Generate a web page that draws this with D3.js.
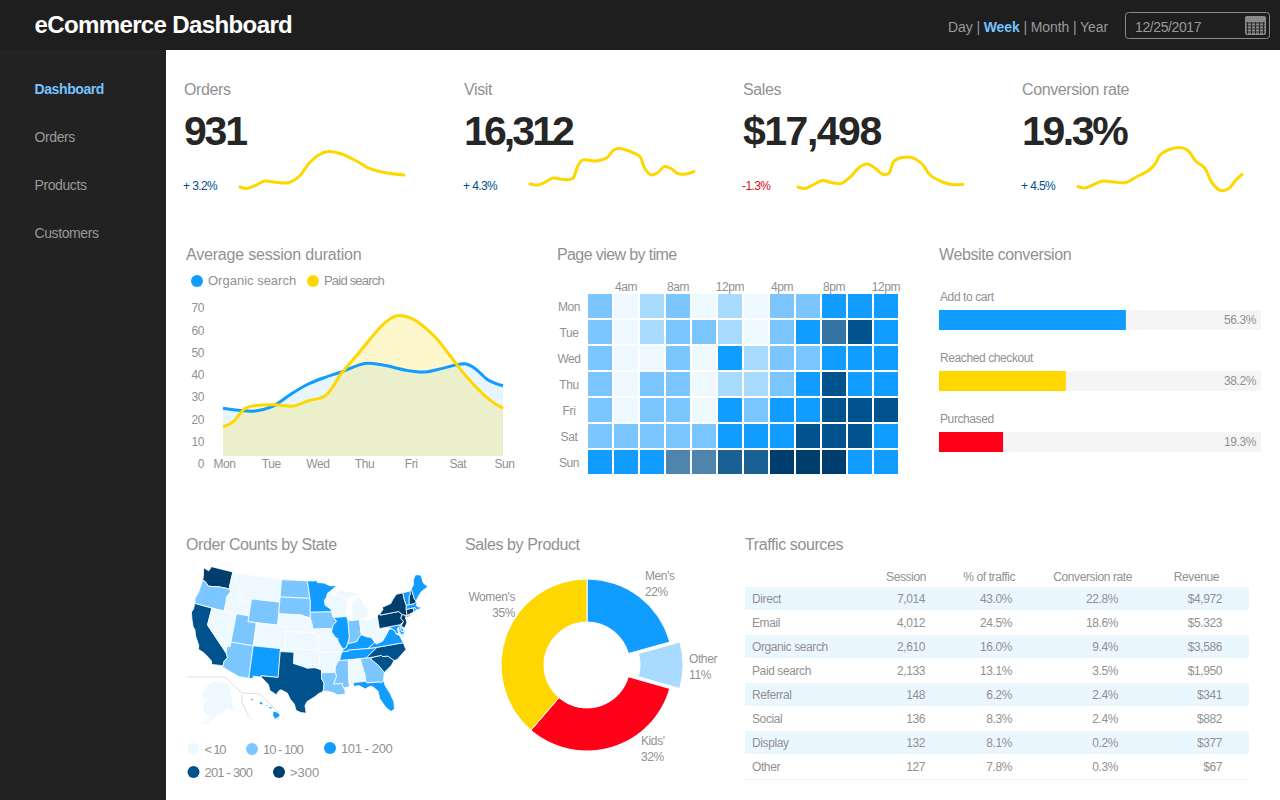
<!DOCTYPE html>
<html>
<head>
<meta charset="utf-8">
<title>eCommerce Dashboard</title>
<script src="https://cdn.jsdelivr.net/npm/d3@7"></script>
<style>
  html, body { margin: 0; padding: 0; background: #fff; overflow: hidden; }
  svg { display: block; }
  text { font-family: "Liberation Sans", Arial, sans-serif; fill: #919191; letter-spacing: -0.4px; }
  .title { font-size: 16px; letter-spacing: -0.4px; }
</style>
</head>
<body>
<svg id="dash" width="1280" height="800"></svg>
<script>
// header + nav
var navItems = ['Dashboard', 'Orders', 'Products', 'Customers'];
var periods = ['Day', 'Week', 'Month', 'Year'];

// kpi row
var kpiNames = ['Orders', 'Visit', 'Sales', 'Conversion rate'];
var kpiValues = ['931', '16,312', '$17,498', '19.3%'];
var kpiDeltas = ['+ 3.2%', '+ 4.3%', '-1.3%', '+ 4.5%'];
var ordersTrend = [[0,14],[.04,11],[.10,18],[.15,26],[.23,23],[.30,23],[.36,35],[.42,61],[.48,78],[.54,85],[.62,80],[.71,66],[.79,51],[.88,43],[1,38]];
var visitTrend = [[0,20],[.05,18],[.09,23],[.14,32],[.20,29],[.26,31],[.29,55],[.32,68],[.40,66],[.47,73],[.51,88],[.55,91],[.61,85],[.67,75],[.70,51],[.74,38],[.78,43],[.82,55],[.86,51],[.90,41],[.95,40],[1,45]];
var salesTrend = [[0,14],[.04,11],[.09,18],[.15,27],[.20,23],[.26,21],[.32,35],[.37,53],[.42,60],[.47,51],[.51,40],[.55,41],[.58,65],[.63,73],[.69,73],[.75,61],[.80,38],[.87,25],[.93,19],[1,19]];
var conversionTrend = [[0,15],[.04,12],[.09,18],[.15,26],[.22,24],[.29,23],[.36,35],[.43,47],[.47,60],[.50,78],[.55,88],[.62,93],[.67,87],[.72,65],[.77,53],[.82,21],[.87,7],[.92,11],[.96,27],[1,39]];
var trends = [ordersTrend, visitTrend, salesTrend, conversionTrend];

// average session duration, [day index, minutes]
var days = ['Mon', 'Tue', 'Wed', 'Thu', 'Fri', 'Sat', 'Sun'];
var sessionTicks = [0, 10, 20, 30, 40, 50, 60, 70];
var organicSearch = [[0,25],[.33,24.1],[.69,23.8],[1.05,25.7],[1.48,31.7],[1.83,35.9],[2.19,38.9],[2.54,41.3],[3.04,45.1],[3.4,44.5],[3.97,41.9],[4.33,41.3],[4.68,42.8],[5.18,45],[5.4,42.9],[5.68,37.7],[6,35.1]];
var paidSearch = [[0,16.7],[.19,18.5],[.48,25],[.69,26.2],[1.12,26.6],[1.51,26],[1.83,28.4],[2.19,30.6],[2.54,40.7],[2.9,49.6],[3.44,62.8],[3.72,66.5],[4.04,65.3],[4.54,57.1],[4.83,49.6],[5.22,39.2],[5.72,28.7],[6,25]];

// page view heat map
var hours = ['', '4am', '', '8am', '', '12pm', '', '4pm', '', '8pm', '', '12pm'];
var pageViews = [
  [80, 5, 40, 80, 5, 40, 5, 80, 80, 150, 150, 150],
  [80, 5, 40, 80, 50, 40, 5, 80, 150, 215, 270, 150],
  [80, 5, 5, 80, 5, 150, 40, 80, 80, 150, 150, 150],
  [80, 5, 80, 80, 5, 40, 40, 80, 150, 270, 150, 150],
  [80, 5, 80, 80, 5, 150, 80, 150, 150, 270, 270, 270],
  [80, 80, 80, 80, 80, 150, 150, 150, 270, 270, 270, 150],
  [150, 150, 150, 200, 200, 235, 235, 330, 330, 330, 150, 150]
];
var heatBreaks = [10, 45, 100, 190, 210, 230, 250, 300];
var heatColors = ['#eef8ff', '#a9dbff', '#7bc6ff', '#119cff', '#4f84ac', '#3374a5', '#1b6095', '#00528c', '#003e6e'];

// website conversion
var funnelSteps = ['Add to cart', 'Reached checkout', 'Purchased'];
var funnelRates = [56.3, 38.2, 19.3];
var funnelColors = ['#119cff', '#ffd700', '#ff0018'];

// orders by state
var stateOrders = {
  WA: 340, OR: 60, CA: 260, NV: 5, ID: 6, MT: 4, WY: 30, UT: 40, CO: 8, AZ: 70, NM: 130, ND: 20, SD: 25,
  NE: 7, KS: 8, OK: 9, TX: 280, MN: 160, IA: 50, MO: 9, AR: 5, LA: 45, WI: 8, IL: 170, IN: 60, MI: 9, OH: 9,
  KY: 150, TN: 140, MS: 40, AL: 7, GA: 70, FL: 180, SC: 240, NC: 260, VA: 160, WV: 4, MD: 150, DE: 120,
  PA: 380, NY: 400, NJ: 320, CT: 310, RI: 120, MA: 170, VT: 110, NH: 305, ME: 130, AK: 2, HI: 110
};
var stateBreaks = [10, 101, 201, 301];
var stateColors = ['#eef8ff', '#7bc6ff', '#119cff', '#00528c', '#003e6e'];
var stateLegend = ['< 10', '10 - 100', '101 - 200', '201 - 300', '>300'];
var legendSpacing = [-1.2, -1, -0.4, -0.8, 0];

// rough state outlines, lon,lat
var stateShapes = {
  WA: ['-124.7,48.4 -123.2,48.15 -122.8,49 -117.03,49 -117.04,46.42 -116.92,45.99 -119,45.93 -119.6,45.92 -121.2,45.67 -122.3,45.55 -122.8,45.9 -123.4,46.2 -124,46.25 -124.1,46.9'],
  OR: ['-124,46.25 -123.4,46.2 -122.8,45.9 -122.3,45.55 -121.2,45.67 -119.6,45.92 -119,45.93 -116.92,45.99 -116.5,45.5 -117.2,44.4 -117.03,43.8 -117.03,42 -124.2,42 -124.5,42.85 -124.1,44'],
  CA: ['-124.2,42 -120,42 -120,39 -114.63,35 -114.14,34.3 -114.72,33.4 -114.72,32.72 -117.12,32.53 -117.3,33.1 -118.4,33.75 -119.2,34.15 -120.6,34.55 -120.7,35.15 -121.9,36.6 -122.5,37.7 -123,38 -123.8,39.3 -124.35,40.4 -124.1,41'],
  NV: ['-120,42 -114.04,42 -114.04,36.2 -114.75,36.1 -114.63,35 -120,39'],
  ID: ['-117.03,49 -116.05,49 -116.05,48 -114.6,46.65 -114.35,45.5 -113.45,44.9 -113,44.45 -111.05,44.48 -111.05,42 -117.03,42 -117.03,43.8 -117.2,44.4 -116.5,45.5 -116.92,45.99 -117.04,46.42'],
  MT: ['-116.05,49 -104.05,49 -104.05,45 -111.05,45 -111.05,44.48 -113,44.45 -113.45,44.9 -114.35,45.5 -114.6,46.65 -116.05,48'],
  WY: ['-111.05,45 -104.05,45 -104.05,41 -111.05,41'],
  UT: ['-114.04,42 -111.05,42 -111.05,41 -109.05,41 -109.05,37 -114.04,37'],
  CO: ['-109.05,41 -102.05,41 -102.05,37 -109.05,37'],
  AZ: ['-114.04,37 -109.05,37 -109.05,31.33 -111.07,31.33 -114.81,32.5 -114.72,32.72 -114.72,33.4 -114.14,34.3 -114.63,35 -114.75,36.1 -114.04,36.2'],
  NM: ['-109.05,37 -103,37 -103,32 -106.62,32 -106.53,31.78 -108.2,31.78 -108.2,31.33 -109.05,31.33'],
  ND: ['-104.05,49 -97.23,49 -96.56,45.93 -104.05,45.94'],
  SD: ['-104.05,45.94 -96.56,45.93 -96.45,45.3 -96.45,42.5 -97.9,42.8 -98.5,43 -104.05,43'],
  NE: ['-104.05,43 -98.5,43 -97.9,42.8 -96.45,42.5 -96.1,41.7 -95.77,40.58 -95.3,40 -102.05,40 -102.05,41 -104.05,41'],
  KS: ['-102.05,40 -95.3,40 -94.9,39.8 -94.6,39.1 -94.62,37 -102.05,37'],
  OK: ['-103,37 -94.62,37 -94.43,35.4 -94.48,33.64 -95.5,33.9 -97,33.8 -98,34.1 -100,34.56 -100,36.5 -103,36.5'],
  TX: ['-106.62,32 -103.06,32 -103,36.5 -100,36.5 -100,34.56 -98,34.1 -97,33.8 -95.5,33.9 -94.04,33.55 -94.04,31.99 -93.55,31.2 -93.7,30.1 -93.85,29.7 -94.7,29.4 -95.4,28.9 -97,28 -97.4,27.3 -97.15,25.96 -98.2,26.06 -99.1,26.4 -99.5,27.5 -100.3,28.3 -101,29.4 -102.3,29.88 -102.7,29.7 -103.15,28.98 -104.5,29.6 -104.9,30.6 -106.53,31.78'],
  MN: ['-97.23,49 -95.15,49 -95.15,49.38 -94.6,48.7 -92.9,48.6 -91.4,48.07 -89.6,48 -92.1,46.75 -92.3,46.1 -92.85,45.6 -92.8,44.75 -91.25,43.85 -91.22,43.5 -96.45,43.5 -96.45,45.3 -96.56,45.93'],
  IA: ['-96.45,43.5 -91.22,43.5 -91.1,42.75 -90.2,41.8 -91.1,41.2 -91.42,40.38 -91.73,40.61 -95.77,40.58 -96.1,41.7 -96.45,42.5'],
  MO: ['-95.77,40.58 -91.73,40.61 -91.42,40.38 -91.5,40 -90.7,39 -90.2,38.8 -90.2,38.4 -89.5,37.3 -89.1,36.95 -89.42,36.5 -89.7,36 -90.37,36 -90.15,36.5 -94.62,36.5 -94.62,37 -94.6,39.1 -94.9,39.8 -95.3,40'],
  AR: ['-94.62,36.5 -90.15,36.5 -90.37,36 -89.7,36 -90.1,35 -90.6,34.7 -91.1,33.9 -91.17,33 -94.04,33 -94.04,33.55 -94.48,33.64 -94.43,35.4'],
  LA: ['-94.04,33 -91.17,33 -90.9,32.3 -91.6,31 -89.73,31 -89.85,30.66 -89.6,30.2 -89.4,29.9 -89.4,29.1 -90.9,29.05 -91.8,29.5 -93.2,29.8 -93.85,29.7 -93.7,30.1 -93.55,31.2 -94.04,31.99'],
  WI: ['-92.1,46.75 -90.9,46.95 -90.4,46.55 -89.1,46.14 -88,45.8 -87.6,45.1 -87.1,45.3 -87.9,43 -87.8,42.5 -90.65,42.5 -91.1,42.75 -91.22,43.5 -91.25,43.85 -92.8,44.75 -92.85,45.6 -92.3,46.1'],
  IL: ['-90.65,42.5 -87.8,42.5 -87.53,41.7 -87.53,39.35 -87.6,38.7 -88.05,37.8 -88.5,37.1 -89.1,36.95 -89.5,37.3 -90.2,38.4 -90.2,38.8 -90.7,39 -91.5,40 -91.42,40.38 -91.1,41.2 -90.2,41.8 -91.1,42.75'],
  IN: ['-87.53,41.7 -87.2,41.76 -84.8,41.76 -84.8,39.1 -85.4,38.7 -86,38 -87,37.9 -88.05,37.8 -87.6,38.7 -87.53,39.35'],
  MI: ['-86.8,41.76 -83.45,41.73 -83.1,42.2 -82.45,43 -82.6,43.9 -83.3,44 -83.4,45 -84.7,45.77 -85.5,45 -86.2,44.7 -86.5,43.7 -86.3,42.5',
       '-90.4,46.55 -88.5,47.3 -87.6,46.9 -84.8,46.5 -84.1,46 -85,46 -86.5,45.85 -87.6,45.1 -88,45.8 -89.1,46.14'],
  OH: ['-84.8,41.76 -83.45,41.73 -82.7,41.5 -81.5,41.7 -80.52,42 -80.52,40.64 -80.8,39.7 -81.7,39 -82.3,38.5 -82.6,38.4 -83.7,38.65 -84.8,39.1'],
  KY: ['-89.42,36.5 -88.05,36.5 -88.05,36.68 -83.68,36.6 -82,37.5 -82.6,38.4 -83.7,38.65 -84.8,39.1 -85.4,38.7 -86,38 -87,37.9 -88.05,37.8 -88.5,37.1 -89.1,36.95'],
  TN: ['-90.1,35 -88.2,35 -85.6,35 -84.32,35 -81.7,36.59 -83.68,36.6 -88.05,36.68 -88.05,36.5 -89.42,36.5 -89.7,36'],
  MS: ['-91.17,33 -91.1,33.9 -90.6,34.7 -90.1,35 -88.2,35 -88.47,31.9 -88.4,30.35 -89.6,30.2 -89.85,30.66 -89.73,31 -91.6,31 -90.9,32.3'],
  AL: ['-88.2,35 -85.6,35 -85.2,32.87 -85,32.3 -85,31 -87.6,31 -87.5,30.3 -88.4,30.35 -88.47,31.9'],
  GA: ['-85.6,35 -83.1,35 -83.35,34.7 -81.9,33.4 -81,32.1 -81.4,30.7 -82.05,30.36 -82.2,30.57 -84.86,30.7 -85,31 -85,32.3 -85.2,32.87'],
  FL: ['-87.6,31 -85,31 -84.86,30.7 -82.2,30.57 -82.05,30.36 -81.4,30.7 -81.2,29.7 -80.5,28.3 -80.05,26.8 -80.15,25.5 -80.9,25.15 -81.8,26.1 -82.7,27.7 -82.8,29 -83.7,29.9 -84.3,30.05 -85.3,29.7 -86.5,30.4 -87.5,30.3'],
  SC: ['-83.1,35 -81.05,35.1 -80.8,34.85 -79.68,34.8 -78.55,33.85 -79.3,33.1 -81,32.1 -81.9,33.4 -83.35,34.7'],
  NC: ['-84.32,35 -83.1,35 -81.05,35.1 -80.8,34.85 -79.68,34.8 -78.55,33.85 -77.9,33.9 -76.6,34.7 -75.6,35.3 -75.85,36.55 -81.7,36.59'],
  VA: ['-83.68,36.6 -81.7,36.59 -75.85,36.55 -76,37 -76.3,37.9 -77,38.3 -77.1,38.85 -77.5,39.15 -77.72,39.32 -78.35,39.4 -79.3,38.4 -80.3,37.5 -81.7,37.2 -82,37.5',
       '-75.9,37.1 -75.25,38.03 -75.65,37.95'],
  WV: ['-82.6,38.4 -82,37.5 -81.7,37.2 -80.3,37.5 -79.3,38.4 -78.35,39.4 -77.72,39.32 -78.4,39.7 -79.48,39.72 -80.52,39.72 -80.52,40.64 -80.8,39.7 -81.7,39 -82.3,38.5'],
  MD: ['-79.48,39.72 -75.79,39.72 -75.7,38.46 -75.05,38.45 -75.25,38.03 -75.9,37.95 -76.2,38.6 -76.1,39.4 -76.5,39.1 -76.4,38.3 -77,38.3 -77.1,38.85 -77.5,39.15 -77.72,39.32 -78.4,39.7'],
  DE: ['-75.79,39.72 -75.4,39.8 -75.55,39.45 -75.05,38.45 -75.7,38.46'],
  PA: ['-80.52,42 -79.76,42.27 -79.76,42 -75.35,42 -74.7,41.35 -75.1,40.95 -75.2,40.65 -74.72,40.15 -75.4,39.8 -75.79,39.72 -80.52,39.72'],
  NY: ['-79.76,42.27 -78.9,42.9 -79.05,43.27 -76.8,43.63 -76.2,44.2 -75,45 -73.35,45 -73.4,43.6 -73.25,42.75 -73.5,42.05 -73.65,41 -73.9,41 -74.7,41.35 -75.35,42 -79.76,42',
       '-74,40.6 -71.9,41.05 -73.7,40.9'],
  NJ: ['-74.7,41.35 -73.9,41 -74.2,40.45 -74,40.4 -74.1,39.75 -74.9,38.95 -75.5,39.5 -74.72,40.15 -75.2,40.65 -75.1,40.95'],
  CT: ['-73.65,41 -73.5,42.05 -71.8,42.02 -71.85,41.32'],
  RI: ['-71.8,42.02 -71.38,42.02 -71.15,41.5 -71.85,41.32'],
  MA: ['-73.5,42.05 -73.25,42.75 -71.3,42.7 -70.9,42.88 -70.6,42.65 -71,42.3 -70.6,41.95 -70,41.8 -70,41.65 -70.7,41.55 -71.15,41.5 -71.38,42.02'],
  VT: ['-73.35,45 -71.5,45 -71.6,44.5 -72.05,44.1 -72.45,43 -72.46,42.73 -73.25,42.75 -73.4,43.6'],
  NH: ['-71.5,45 -71.08,45.3 -70.98,43.4 -70.7,43.07 -70.9,42.88 -71.3,42.7 -72.46,42.73 -72.45,43 -72.05,44.1 -71.6,44.5'],
  ME: ['-71.08,45.3 -70.3,45.9 -70,46.7 -69.2,47.45 -68.3,47.35 -67.8,47.07 -67.8,45.7 -67,44.85 -68.8,44.4 -69.8,43.8 -70.7,43.07 -70.98,43.4'],
  AK: ['-168,65.6 -166,68.3 -162,70 -156.5,71.3 -141,69.65 -141,60.3 -137,58.9 -130,55 -132,55 -136,58 -140,59.7 -146,60.7 -151.5,59.3 -153,59 -160,55.5 -164,54.6 -158,58.5 -162,59 -165,61 -164,63 -161,64.5 -166,64.6'],
  HI: ['-155.9,20.2 -155.1,19.9 -154.8,19.5 -155.6,18.95 -155.95,19.5', '-156.7,20.9 -156,20.8 -156.4,20.6', '-158.25,21.55 -157.9,21.7 -157.65,21.3 -158.1,21.3', '-159.8,22.1 -159.35,22.2 -159.4,21.9', '-157.3,21.2 -156.75,21.15 -156.9,21.05']
};

// sales by product. drawn shares differ a bit from the printed labels
var products = ['Men\'s', 'Other', 'Kids\'', 'Women\'s'];
var productShares = [20.7, 8.7, 31.9, 38.7];
var productLabels = ['22%', '11%', '32%', '35%'];
var productColors = ['#119cff', '#a9dbff', '#ff0018', '#ffd700'];

// traffic table
var trafficColumns = ['Session', '% of traffic', 'Conversion rate', 'Revenue'];
var trafficSources = ['Direct', 'Email', 'Organic search', 'Paid search', 'Referral', 'Social', 'Display', 'Other'];
var trafficSessions = ['7,014', '4,012', '2,610', '2,133', '148', '136', '132', '127'];
var trafficShare = ['43.0%', '24.5%', '16.0%', '13.1%', '6.2%', '8.3%', '8.1%', '7.8%'];
var trafficConversion = ['22.8%', '18.6%', '9.4%', '3.5%', '2.4%', '2.4%', '0.2%', '0.3%'];
var trafficRevenue = ['$4,972', '$5.323', '$3,586', '$1,950', '$341', '$882', '$377', '$67'];

var svg = d3.select('#dash');

function label(parent, x, y, str, size) {
  return parent.append('text')
    .attr('x', x)
    .attr('y', y)
    .attr('dy', '0.35em')
    .style('font-size', (size || 12) + 'px')
    .text(str);
}

function drawChrome() {
  svg.append('rect').attr('width', 166).attr('height', 800).attr('fill', '#222222');
  svg.append('rect').attr('width', 1280).attr('height', 50).attr('fill', '#1e1e1e');

  label(svg, 34.5, 25, 'eCommerce Dashboard', 24)
    .style('fill', '#fff').style('font-weight', 'bold').style('letter-spacing', '-0.62px');

  var period = label(svg, 948, 27, '', 14).style('letter-spacing', '-0.1px');
  periods.forEach(function(p, i) {
    if (i > 0) period.append('tspan').text(' | ').style('fill', '#999');
    period.append('tspan').text(p)
      .style('fill', p == 'Week' ? '#75c4ff' : '#999')
      .style('font-weight', p == 'Week' ? 'bold' : 'normal');
  });

  svg.append('rect')
    .attr('x', 1125.5).attr('y', 12.5).attr('width', 144).attr('height', 26).attr('rx', 3)
    .attr('fill', 'none').attr('stroke', '#8a8a8a');
  label(svg, 1135, 27, '12/25/2017', 14).style('fill', '#999');

  // calendar icon
  var cal = svg.append('g').attr('transform', 'translate(1245,16)');
  cal.append('rect').attr('width', 21).attr('height', 19).attr('rx', 2).attr('fill', '#8a8a8a');
  d3.range(4).forEach(function(i) {
    cal.append('line').attr('x1', 1).attr('x2', 20).attr('y1', 7 + i * 3).attr('y2', 7 + i * 3).attr('stroke', '#2a2a2a');
  });
  d3.range(5).forEach(function(i) {
    cal.append('line').attr('x1', 2.5 + i * 4).attr('x2', 2.5 + i * 4).attr('y1', 6).attr('y2', 18).attr('stroke', '#2a2a2a');
  });

  var navY = d3.scalePoint().domain(navItems).range([89, 233]);
  navItems.forEach(function(item, i) {
    label(svg, 34.5, navY(item), item, 14)
      .style('fill', i == 0 ? '#75c4ff' : '#999')
      .style('font-weight', i == 0 ? 'bold' : 'normal');
  });
}

function drawKpis() {
  var kpiX = [184, 464, 743, 1022];
  var kpiSpacing = [-2.2, -2.9, -1.5, -2.4];
  var sparkX = [[240, 404], [530, 694], [798, 963], [1078, 1242]];
  var sparkY = d3.scaleLinear().domain([0, 100]).range([194, 144]);

  kpiNames.forEach(function(name, i) {
    label(svg, kpiX[i], 89, name, 16).attr('class', 'title');
    label(svg, kpiX[i], 131, kpiValues[i], 41)
      .style('fill', '#262626').style('font-weight', 'bold').style('letter-spacing', kpiSpacing[i] + 'px');
    label(svg, kpiX[i] - 1, 186, kpiDeltas[i], 12)
      .style('fill', kpiDeltas[i][0] == '-' ? '#dd0a22' : '#004c8c').style('letter-spacing', '-0.6px');

    var x = d3.scaleLinear().domain([0, 1]).range(sparkX[i]);
    var line = d3.line()
      .x(function(d) { return x(d[0]); })
      .y(function(d) { return sparkY(d[1]); })
      .curve(d3.curveCatmullRom);
    svg.append('path')
      .datum(trends[i])
      .attr('d', line)
      .attr('fill', 'none')
      .attr('stroke', '#ffd700')
      .attr('stroke-width', 3)
      .attr('stroke-linecap', 'round');
  });
}

function drawSession() {
  label(svg, 186, 254, 'Average session duration', 16).attr('class', 'title').style('letter-spacing', '-0.2px');

  [[197, 'Organic search', '#119cff', 0], [313, 'Paid search', '#ffd700', -0.8]].forEach(function(d) {
    svg.append('circle').attr('cx', d[0]).attr('cy', 281).attr('r', 6).attr('fill', d[2]);
    label(svg, d[0] + 11, 280.5, d[1], 13).style('letter-spacing', d[3] + 'px');
  });

  var x = d3.scaleLinear().domain([0, 6]).range([223, 503]);
  var y = d3.scaleLinear().domain([0, 70]).range([464, 308]);
  var base = 456;

  var area = d3.area()
    .x(function(d) { return x(d[0]); })
    .y0(base)
    .y1(function(d) { return y(d[1]); })
    .curve(d3.curveCatmullRom);
  var line = d3.line()
    .x(function(d) { return x(d[0]); })
    .y(function(d) { return y(d[1]); })
    .curve(d3.curveCatmullRom);

  svg.append('path').datum(organicSearch).attr('d', area).attr('fill', '#119cff').attr('fill-opacity', 0.1);
  svg.append('path').datum(paidSearch).attr('d', area).attr('fill', '#ffd700').attr('fill-opacity', 0.2);
  svg.append('path').datum(organicSearch).attr('d', line).attr('fill', 'none').attr('stroke', '#119cff').attr('stroke-width', 3);
  svg.append('path').datum(paidSearch).attr('d', line).attr('fill', 'none').attr('stroke', '#ffd700').attr('stroke-width', 3);

  var yAxis = d3.axisLeft(y).tickValues(sessionTicks).tickSize(0).tickPadding(0);
  var yg = svg.append('g').attr('transform', 'translate(204,0)').call(yAxis);
  yg.select('.domain').remove();
  yg.selectAll('text').style('font-size', '12px').style('font-family', null);

  var xAxis = d3.axisBottom(x).tickValues(d3.range(7)).tickFormat(function(d) { return days[d]; }).tickSize(0).tickPadding(0);
  var xg = svg.append('g').attr('transform', 'translate(1,464)').call(xAxis);
  xg.select('.domain').remove();
  xg.selectAll('text').attr('y', 0).attr('dy', '0.35em').style('font-size', '12px').style('font-family', null);
}

function drawHeatmap() {
  label(svg, 557, 254, 'Page view by time', 16).attr('class', 'title').style('letter-spacing', '-0.6px');

  var color = d3.scaleThreshold().domain(heatBreaks).range(heatColors);
  var x = d3.scaleBand().domain(d3.range(12)).range([588, 898]).paddingInner(2 / 26).paddingOuter(0);
  var y = d3.scaleBand().domain(d3.range(7)).range([294, 474]).paddingInner(2 / 26).paddingOuter(0);

  svg.append('g').selectAll('g')
    .data(pageViews)
    .enter().append('g')
    .each(function(row, r) {
      d3.select(this).selectAll('rect')
        .data(row)
        .enter().append('rect')
        .attr('x', function(d, c) { return x(c); })
        .attr('y', y(r))
        .attr('width', x.bandwidth())
        .attr('height', y.bandwidth())
        .attr('fill', function(d) { return color(d); });
    });

  var top = d3.axisTop(x).tickFormat(function(d) { return hours[d]; }).tickSize(0).tickPadding(0);
  var tg = svg.append('g').attr('transform', 'translate(0,287)').call(top);
  tg.select('.domain').remove();
  tg.selectAll('text').attr('y', 0).attr('dy', '0.35em').style('font-size', '12px').style('font-family', null);

  var left = d3.axisLeft(y).tickFormat(function(d) { return days[d]; }).tickSize(0).tickPadding(0);
  var lg = svg.append('g').attr('transform', 'translate(569,1)').call(left);
  lg.select('.domain').remove();
  lg.selectAll('text').attr('text-anchor', 'middle').attr('x', 0).style('font-size', '12px').style('font-family', null);
}

function drawFunnel() {
  label(svg, 939, 254, 'Website conversion', 16).attr('class', 'title');

  var x = d3.scaleLinear().domain([0, 97]).range([939, 1261]);
  var y = d3.scaleBand().domain(funnelSteps).range([310, 493]);
  funnelSteps.forEach(function(step, i) {
    var top = y(step);
    label(svg, 940, top - 13, step, 12);
    svg.append('rect').attr('x', x(0)).attr('y', top).attr('width', x(97) - x(0)).attr('height', 20).attr('fill', '#f5f5f5');
    svg.append('rect').attr('x', x(0)).attr('y', top).attr('width', x(funnelRates[i]) - x(0)).attr('height', 20).attr('fill', funnelColors[i]);
    label(svg, 1256, top + 10, funnelRates[i].toFixed(1) + '%', 12).attr('text-anchor', 'end');
  });
}

function drawMap() {
  label(svg, 186, 544, 'Order Counts by State', 16).attr('class', 'title');

  var k = 328;
  var lower48 = d3.geoAlbersUsa().scale(k).translate([309.5, 640]);
  var alaska = d3.geoConicEqualArea().rotate([154, 0]).center([-2, 58.5]).parallels([55, 65]).scale(k * 0.48).translate([214, 716]);
  var hawaii = d3.geoConicEqualArea().rotate([157, 0]).center([-3, 19.9]).parallels([8, 18]).scale(k * 1.1).translate([249, 713]);
  var color = d3.scaleThreshold().domain(stateBreaks).range(stateColors);
  var line = d3.line().curve(d3.curveLinearClosed);

  // project by hand, rings are not wound for d3.geoPath
  function outline(ring, projection) {
    var pts = ring.split(' ').map(function(p) {
      return projection(p.split(',').map(Number));
    }).filter(function(p) { return p; });
    return line(pts);
  }

  // inset frames for AK and HI
  var frame = d3.line();
  [[[187, 677], [225, 677], [242, 693], [260, 694], [278, 712], [278, 720]], [[242, 695], [242, 703], [251, 720]]].forEach(function(pts) {
    svg.append('path').attr('d', frame(pts)).attr('fill', 'none').attr('stroke', '#ddd').attr('stroke-width', 1);
  });

  var states = Object.keys(stateShapes);
  svg.append('g').selectAll('path')
    .data(states)
    .enter().append('path')
    .attr('d', function(s) {
      var projection = s == 'AK' ? alaska : s == 'HI' ? hawaii : lower48;
      return stateShapes[s].map(function(r) { return outline(r, projection); }).join('');
    })
    .attr('fill', function(s) { return color(stateOrders[s]); })
    .attr('stroke', '#fff')
    .attr('stroke-width', function(s) { return s == 'HI' ? 0.2 : 0.8; })
    .attr('stroke-linejoin', 'round');

  var legendSpots = [[193.5, 749], [252, 749], [330, 748], [193.5, 772], [279, 772]];
  stateLegend.forEach(function(t, i) {
    svg.append('circle').attr('cx', legendSpots[i][0]).attr('cy', legendSpots[i][1]).attr('r', 6).attr('fill', stateColors[i]);
    label(svg, legendSpots[i][0] + 11, legendSpots[i][1], t, 13).style('letter-spacing', legendSpacing[i] + 'px');
  });
}

function drawDonut() {
  label(svg, 465, 544, 'Sales by Product', 16).attr('class', 'title');

  var pie = d3.pie().sort(null).value(function(d) { return d; });
  var arc = d3.arc().innerRadius(43).outerRadius(86);
  var g = svg.append('g').attr('transform', 'translate(587,665)');

  g.selectAll('path')
    .data(pie(productShares))
    .enter().append('path')
    .attr('d', arc)
    .attr('fill', function(d, i) { return productColors[i]; })
    .attr('stroke', '#fff')
    .attr('stroke-width', 1)
    .attr('transform', function(d, i) { return i == 1 ? 'translate(10,0)' : null; });

  // label anchors x,y,align
  var spots = [[645, 576, 'start'], [689, 659, 'start'], [641, 741, 'start'], [515, 597, 'end']];
  products.forEach(function(p, i) {
    label(svg, spots[i][0], spots[i][1], p, 12).attr('text-anchor', spots[i][2]);
    label(svg, spots[i][0], spots[i][1] + 16, productLabels[i], 12).attr('text-anchor', spots[i][2]);
  });
}

function drawTable() {
  label(svg, 745, 544, 'Traffic sources', 16).attr('class', 'title');

  var y = d3.scaleBand().domain(trafficSources).range([587, 779]);
  var colX = [925, 1012, 1118, 1222];
  var headX = [926, 1015, 1132, 1219];
  var cols = [trafficSessions, trafficShare, trafficConversion, trafficRevenue];

  trafficColumns.forEach(function(c, i) {
    label(svg, headX[i], 577, c, 12).attr('text-anchor', 'end');
  });

  trafficSources.forEach(function(s, r) {
    if (r % 2 == 0) {
      svg.append('rect').attr('x', 745).attr('y', y(s)).attr('width', 504).attr('height', 23).attr('fill', '#ebf7ff');
    }
    label(svg, 752, y(s) + 11.5, s, 12);
    cols.forEach(function(col, i) {
      label(svg, colX[i], y(s) + 11.5, col[r], 12).attr('text-anchor', 'end');
    });
  });

  svg.append('line').attr('x1', 745).attr('x2', 1249).attr('y1', 779.5).attr('y2', 779.5).attr('stroke', '#ebf7ff');
}

drawChrome();
drawKpis();
drawSession();
drawHeatmap();
drawFunnel();
drawMap();
drawDonut();
drawTable();
</script>
</body>
</html>
